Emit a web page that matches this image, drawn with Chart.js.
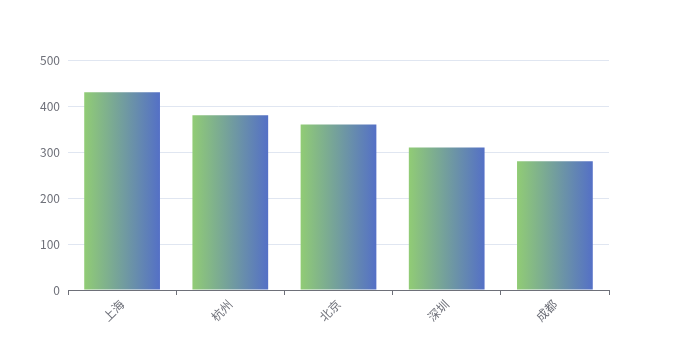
<!DOCTYPE html>
<html>
<head>
<meta charset="utf-8">
<script src="https://cdn.jsdelivr.net/npm/chart.js@4"></script>
<style>
  html, body { margin: 0; padding: 0; background: #fff; }
  #wrap { width: 677px; height: 360px; }
</style>
</head>
<body>
<div id="wrap"><canvas id="barchart" width="677" height="360"></canvas></div>
<script>
const cities = ["上海", "杭州", "北京", "深圳", "成都"];
const values = [430, 380, 360, 310, 280];
const yTicks = [0, 100, 200, 300, 400, 500];

const axisColor = "#6E7079";
const gridColor = "#E0E6F1";

// each bar gets its own left-to-right gradient
function barGradient(context) {
  const chart = context.chart;
  const xScale = chart.scales.x;
  if (!chart.chartArea || !xScale) return "#91cc75";
  const center = xScale.getPixelForValue(context.dataIndex);
  const half = (xScale.width / cities.length) * 0.7 / 2;
  const g = chart.ctx.createLinearGradient(center - half, 0, center + half, 0);
  g.addColorStop(0, "#91cc75"); // green
  g.addColorStop(1, "#5470c6"); // blue
  return g;
}

new Chart("barchart", {
  type: "bar",
  data: {
    labels: cities,
    datasets: [{
      data: values,
      backgroundColor: barGradient,
      barPercentage: 0.7,
      categoryPercentage: 1
    }]
  },
  options: {
    responsive: false,
    animation: false,
    layout: { padding: { top: 60, right: 68, bottom: 0, left: 0 } },
    scales: {
      x: {
        offset: true,
        grid: {
          display: true,
          offset: true,
          drawOnChartArea: false,
          color: axisColor,
          tickLength: 5
        },
        border: { color: axisColor },
        ticks: {
          color: axisColor,
          font: { family: "'Noto Sans CJK SC', sans-serif", size: 12 },
          minRotation: 45,
          maxRotation: 45,
          padding: 2
        },
        afterFit: (axis) => { axis.height = 70; }
      },
      y: {
        min: 0,
        max: 500,
        afterBuildTicks: (axis) => { axis.ticks = yTicks.map(v => ({ value: v })); },
        grid: { color: gridColor, drawTicks: false },
        border: { display: false },
        ticks: {
          color: axisColor,
          font: { family: "'Noto Sans CJK SC', sans-serif", size: 12 },
          padding: 8
        },
        afterFit: (axis) => { axis.width = 68; }
      }
    },
    plugins: {
      legend: { display: false },
      tooltip: { enabled: false }
    }
  }
});
</script>
</body>
</html>
